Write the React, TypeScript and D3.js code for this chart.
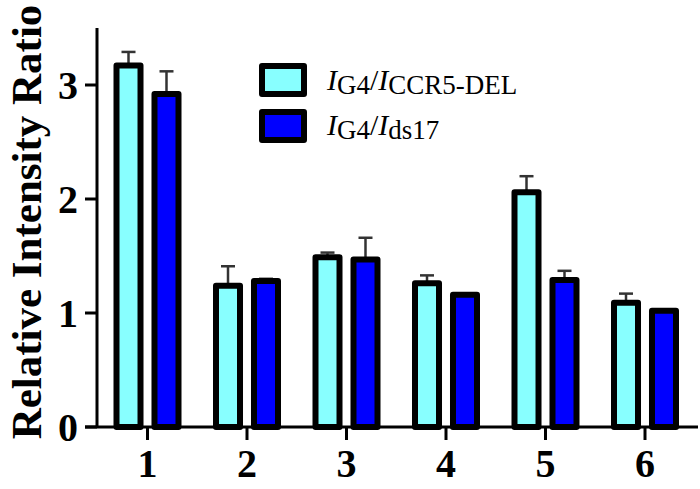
import { scaleBand, scaleLinear } from "d3";

const groups = ["1", "2", "3", "4", "5", "6"];
const series = ["ccr5", "ds17"];
const ccr5Values = [3.17, 1.24, 1.49, 1.26, 2.06, 1.09];
const ccr5Errors = [0.12, 0.17, 0.04, 0.07, 0.14, 0.08];
const ds17Values = [2.92, 1.28, 1.47, 1.16, 1.29, 1.02];
const ds17Errors = [0.2, 0.02, 0.19, 0.01, 0.08, 0.01];
const yTicks = [0, 1, 2, 3];

const colors = { ccr5: "#88ffff", ds17: "#0000ff" };

const width = 700;
const height = 489;
const yAxisX = 97;
const font = "'Liberation Serif', 'Times New Roman', serif";

const App = () => {
  const xScale = scaleBand().domain(groups).range([97.75, 694.75]).padding(0);
  const xSub = scaleBand().domain(series).range([-31, 31]).paddingInner(0.368);
  const yScale = scaleLinear().domain([0, 3.5]).range([427, 28]);

  const data = groups.map((g, i) => ({
    group: g,
    bars: [
      { key: "ccr5", value: ccr5Values[i], err: ccr5Errors[i] },
      { key: "ds17", value: ds17Values[i], err: ds17Errors[i] },
    ],
  }));

  const center = (g) => xScale(g) + xScale.bandwidth() / 2;

  return (
    <svg
      width={width}
      height={height}
      style={{ position: "absolute", left: 0, top: 0, background: "#fff" }}
      fontFamily={font}
    >
      {/* bars + error bars */}
      {data.map((d) => (
        <g key={d.group} transform={`translate(${center(d.group)},0)`}>
          {d.bars.map((b) => {
            const x = xSub(b.key);
            const cx = x + xSub.bandwidth() / 2;
            return (
              <g key={b.key}>
                <line
                  x1={cx}
                  x2={cx}
                  y1={yScale(b.value)}
                  y2={yScale(b.value + b.err)}
                  stroke="#333"
                  strokeWidth={2.5}
                />
                <line
                  x1={cx - 7}
                  x2={cx + 7}
                  y1={yScale(b.value + b.err)}
                  y2={yScale(b.value + b.err)}
                  stroke="#333"
                  strokeWidth={2.5}
                />
                <rect
                  x={x}
                  y={yScale(b.value)}
                  width={xSub.bandwidth()}
                  height={yScale(0) - yScale(b.value)}
                  fill={colors[b.key]}
                  stroke="#000"
                  strokeWidth={6}
                  strokeLinejoin="round"
                />
              </g>
            );
          })}
        </g>
      ))}

      {/* y axis */}
      <line x1={yAxisX} x2={yAxisX} y1={yScale(3.5)} y2={yScale(0)} stroke="#000" strokeWidth={3} />
      {yTicks.map((t) => (
        <g key={t} transform={`translate(0,${yScale(t)})`}>
          <line x1={85} x2={yAxisX} stroke="#000" strokeWidth={3} />
          <text
            x={78}
            dy="0.35em"
            textAnchor="end"
            fontSize={40}
            fontWeight="bold"
          >
            {t}
          </text>
        </g>
      ))}

      {/* x axis */}
      <line x1={85} x2={698} y1={yScale(0)} y2={yScale(0)} stroke="#000" strokeWidth={3} />
      {groups.map((g) => (
        <g key={g} transform={`translate(${center(g)},${yScale(0)})`}>
          <line y1={0} y2={13} stroke="#000" strokeWidth={3} />
          <text y={50} textAnchor="middle" fontSize={40} fontWeight="bold">
            {g}
          </text>
        </g>
      ))}

      {/* y title */}
      <text
        transform={`translate(41,222) rotate(-90)`}
        textAnchor="middle"
        fontSize={43}
        fontWeight="bold"
      >
        Relative Intensity Ratio
      </text>

      {/* legend */}
      <g>
        <rect x={262} y={66} width={42} height={28} fill={colors.ccr5} stroke="#000" strokeWidth={6} strokeLinejoin="round" />
        <rect x={262} y={112} width={42} height={28} fill={colors.ds17} stroke="#000" strokeWidth={6} strokeLinejoin="round" />
        <text x={327} y={90} fontSize={30}>
          <tspan fontStyle="italic">I</tspan>
          <tspan fontSize={27} dy={4}>G4</tspan>
          <tspan dy={-4}>/</tspan>
          <tspan fontStyle="italic">I</tspan>
          <tspan fontSize={27} dy={4}>CCR5-DEL</tspan>
        </text>
        <text x={327} y={135} fontSize={30}>
          <tspan fontStyle="italic">I</tspan>
          <tspan fontSize={27} dy={4}>G4</tspan>
          <tspan dy={-4}>/</tspan>
          <tspan fontStyle="italic">I</tspan>
          <tspan fontSize={27} dy={4}>ds17</tspan>
        </text>
      </g>
    </svg>
  );
};

export default App;
